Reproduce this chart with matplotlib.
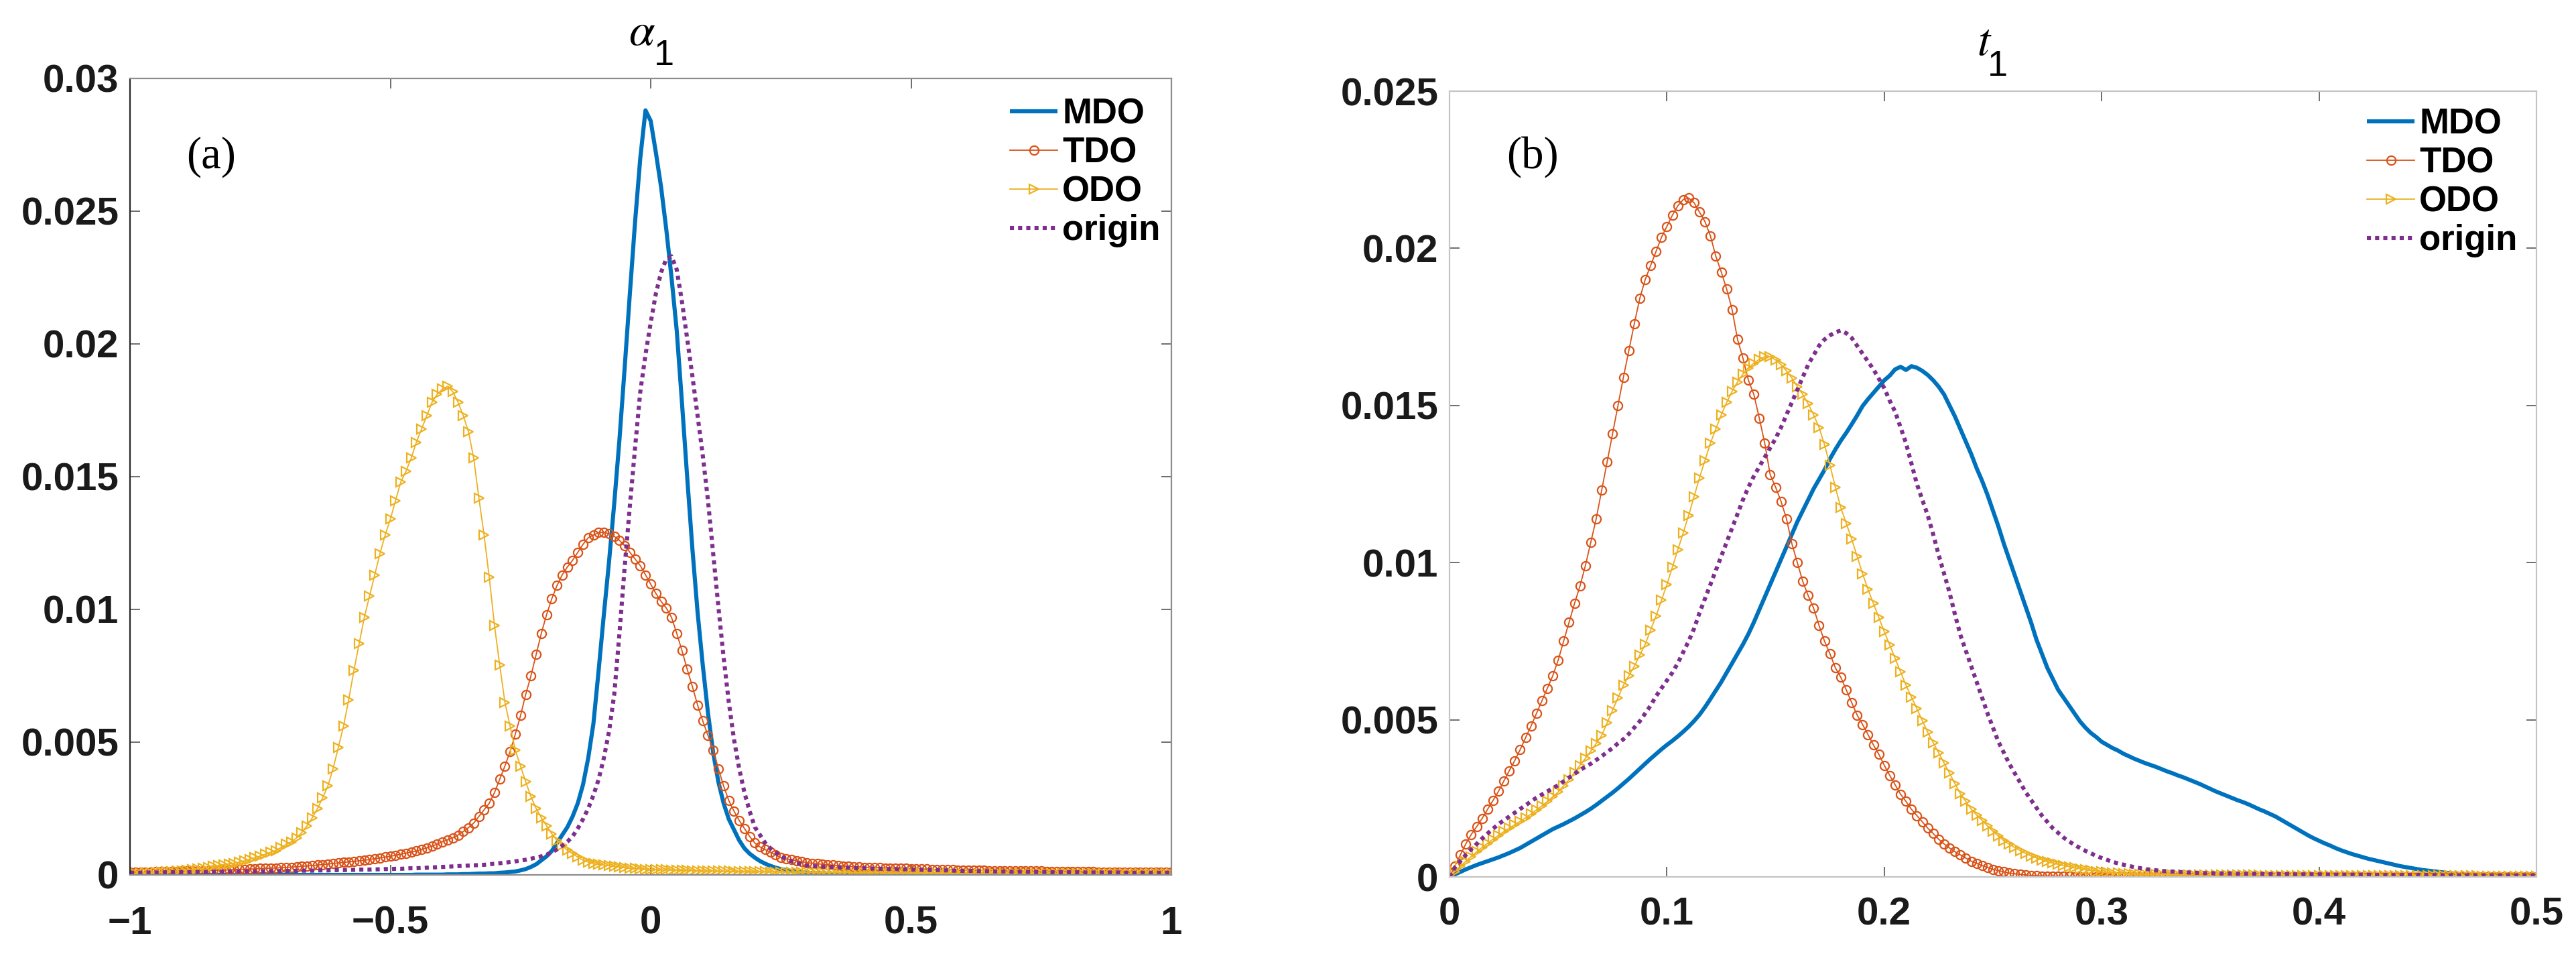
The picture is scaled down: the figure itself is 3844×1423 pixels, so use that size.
import numpy as np
import matplotlib
matplotlib.use("Agg")
import matplotlib.pyplot as plt

plt.rcParams["font.family"] = ["Liberation Sans", "DejaVu Sans"]
plt.rcParams["mathtext.fontset"] = "stix"

# -----------------------------
# DATA (y in units of 1e-4)
# -----------------------------
UNIT = 1e-4

# panel (a): alpha_1, x from -1 to 1 in steps of 0.01
x_a = np.linspace(-1.0, 1.0, 201)

mdo_a = [
    0, 0, 0, 0, 0, 0, 0, 0, 0, 0, 0, 0, 0, 0, 0, 0, 0, 0, 0, 0,
    0, 0, 0, 0, 0, 0, 0, 0, 0, 0, 0, 0, 0, 0, 0, 0, 0, 0, 0, 0,
    0, 0, 0, 0, 0, 0, 0, 0, 0, 0, 0, 0, 0, 0, 0, 0.1, 0.1, 0.1, 0.1, 0.1,
    0.1, 0.2, 0.2, 0.2, 0.3, 0.3, 0.4, 0.5, 0.5, 0.6, 0.6, 0.8, 0.9, 1.1, 1.3, 1.7, 2.2, 3, 4, 5.5,
    7, 9, 12, 15, 18, 22, 27, 34, 44, 57, 77, 98, 118, 140, 164, 191, 219, 246, 270, 288,
    284, 272, 259, 243, 225, 205, 178, 150, 123, 99, 79, 61, 46, 35, 27, 21, 17, 13, 10, 8,
    6.5, 5.2, 4.2, 3.4, 2.7, 2.2, 1.8, 1.5, 1.2, 1.0, 0.8, 0.7, 0.6, 0.5, 0.4, 0.3, 0.3, 0.2, 0.2, 0.2,
    0.1, 0.1, 0.1, 0.1, 0.1, 0, 0, 0, 0, 0, 0, 0, 0, 0, 0, 0, 0, 0, 0, 0,
    0, 0, 0, 0, 0, 0, 0, 0, 0, 0, 0, 0, 0, 0, 0, 0, 0, 0, 0, 0,
    0, 0, 0, 0, 0, 0, 0, 0, 0, 0, 0, 0, 0, 0, 0, 0, 0, 0, 0, 0,
    0,
]

tdo_a = [
    1.0, 1.0, 1.1, 1.1, 1.1, 1.2, 1.2, 1.2, 1.3, 1.3, 1.4, 1.4, 1.5, 1.5, 1.6, 1.6, 1.7, 1.8, 1.8, 1.9,
    2.0, 2.1, 2.1, 2.2, 2.3, 2.4, 2.5, 2.5, 2.6, 2.7, 2.8, 2.9, 3.1, 3.2, 3.4, 3.5, 3.7, 3.9, 4.1, 4.3,
    4.5, 4.7, 4.9, 5.1, 5.3, 5.5, 5.8, 6.1, 6.4, 6.7, 7.0, 7.4, 7.8, 8.2, 8.6, 9.0, 9.6, 10.2, 10.8, 11.6,
    12.5, 13.2, 14, 15, 16.3, 17.8, 19.5, 22, 24.5, 27, 31, 36, 41, 46.5, 53, 60, 68, 75, 83, 91,
    98, 104, 109, 113, 116, 118.5, 121.5, 124.5, 127, 128, 129, 129, 128.5, 127.5, 126, 124, 121.5, 119, 116.5, 113,
    109.5, 106, 103, 100.5, 97, 91, 84.5, 77.5, 71, 64, 58, 52.5, 47, 40, 33.5, 28, 24, 20.5, 17.5, 14.5,
    12, 10.5, 9.5, 8.5, 7.5, 6.5, 6, 5.7, 5.4, 5, 4.6, 4.4, 4.2, 4, 3.8, 3.7, 3.5, 3.4, 3.2, 3.1,
    3.0, 2.9, 2.8, 2.8, 2.7, 2.6, 2.6, 2.5, 2.4, 2.4, 2.3, 2.3, 2.2, 2.2, 2.1, 2.0, 2.0, 1.9, 1.9, 1.8,
    1.8, 1.8, 1.7, 1.7, 1.7, 1.6, 1.6, 1.6, 1.5, 1.5, 1.5, 1.5, 1.4, 1.4, 1.4, 1.4, 1.3, 1.3, 1.3, 1.3,
    1.3, 1.2, 1.2, 1.2, 1.2, 1.2, 1.1, 1.1, 1.1, 1.1, 1.1, 1.1, 1.0, 1.0, 1.0, 1.0, 1.0, 1.0, 1.0, 1.0,
    1.0,
]

odo_a = [
    0.5, 0.55, 0.6, 0.7, 0.8, 0.9, 1.0, 1.15, 1.3, 1.45, 1.6, 1.8, 2.0, 2.3, 2.6, 2.9, 3.2, 3.5, 3.8, 4.1,
    4.4, 4.8, 5.3, 5.9, 6.5, 7.1, 7.8, 8.5, 9.2, 10.3, 11.5, 12.5, 14, 16, 18.5, 21.5, 25, 29, 33.5, 40,
    48, 56, 66, 77, 87, 97, 105, 113, 121, 128, 134, 141, 148, 152, 157, 163, 168, 173, 178, 181,
    183, 184, 182, 178, 173, 167, 157, 142, 128, 112, 94, 79, 65, 56, 47, 41, 35, 29.5, 25, 21.5,
    18.5, 15.5, 13, 11, 9.3, 8, 6.7, 5.5, 4.8, 4.3, 4, 3.7, 3.5, 3.2, 3, 2.8, 2.5, 2.4, 2.3, 2.1,
    2.0, 2.0, 1.9, 1.9, 1.8, 1.8, 1.7, 1.7, 1.6, 1.6, 1.5, 1.5, 1.5, 1.4, 1.4, 1.4, 1.3, 1.3, 1.3, 1.2,
    1.2, 1.2, 1.2, 1.1, 1.1, 1.1, 1.1, 1.0, 1.0, 1.0, 1.0, 1.0, 0.9, 0.9, 0.9, 0.9, 0.9, 0.9, 0.8, 0.8,
    0.8, 0.8, 0.8, 0.8, 0.8, 0.7, 0.7, 0.7, 0.7, 0.7, 0.7, 0.7, 0.7, 0.6, 0.6, 0.6, 0.6, 0.6, 0.6, 0.6,
    0.6, 0.6, 0.6, 0.6, 0.5, 0.5, 0.5, 0.5, 0.5, 0.5, 0.5, 0.5, 0.5, 0.5, 0.5, 0.5, 0.5, 0.5, 0.5, 0.5,
    0.5, 0.5, 0.5, 0.5, 0.5, 0.5, 0.5, 0.5, 0.5, 0.5, 0.5, 0.5, 0.5, 0.5, 0.5, 0.5, 0.5, 0.5, 0.5, 0.5,
    0.5,
]

origin_a = [
    0.8, 0.8, 0.8, 0.9, 0.9, 0.9, 0.9, 1.0, 1.0, 1.0, 1.0, 1.0, 1.1, 1.1, 1.1, 1.1, 1.2, 1.2, 1.2, 1.2,
    1.2, 1.3, 1.3, 1.3, 1.3, 1.4, 1.4, 1.4, 1.4, 1.5, 1.5, 1.5, 1.5, 1.6, 1.6, 1.6, 1.7, 1.7, 1.7, 1.8,
    1.8, 1.8, 1.9, 1.9, 2.0, 2.0, 2.0, 2.1, 2.1, 2.2, 2.2, 2.3, 2.3, 2.4, 2.5, 2.5, 2.6, 2.7, 2.8, 2.9,
    3.0, 3.1, 3.2, 3.3, 3.4, 3.5, 3.6, 3.7, 3.8, 4.0, 4.2, 4.4, 4.6, 4.8, 5.1, 5.4, 5.7, 6.1, 6.5, 7.0,
    7.6, 8.5, 9.6, 11, 12.5, 14.5, 17.5, 21, 25, 30, 36, 44, 54, 68, 91, 116, 139, 161, 182, 196,
    208, 219, 227, 232, 233, 228, 216, 202, 188, 173, 158, 141, 121, 101, 82, 65, 51, 40, 31, 24,
    18, 15, 12, 10, 8.5, 7, 6, 5.2, 4.5, 4, 3.5, 3.3, 3.2, 3.1, 3.0, 2.9, 2.8, 2.7, 2.7, 2.6,
    2.5, 2.5, 2.4, 2.4, 2.3, 2.3, 2.2, 2.2, 2.1, 2.1, 2.0, 2.0, 1.9, 1.9, 1.8, 1.8, 1.7, 1.7, 1.6, 1.6,
    1.5, 1.5, 1.5, 1.4, 1.4, 1.4, 1.3, 1.3, 1.3, 1.2, 1.2, 1.2, 1.2, 1.1, 1.1, 1.1, 1.1, 1.0, 1.0, 1.0,
    1.0, 1.0, 1.0, 0.9, 0.9, 0.9, 0.9, 0.9, 0.9, 0.9, 0.9, 0.8, 0.8, 0.8, 0.8, 0.8, 0.8, 0.8, 0.8, 0.8,
    0.8,
]

# panel (b): t_1, x from 0 to 0.5 in steps of 0.0025
x_b = np.linspace(0.0, 0.5, 201)

mdo_b = [
    0, 0.8, 1.6, 2.4, 3.1, 3.8, 4.4, 5.0, 5.6, 6.2, 6.9, 7.6, 8.4, 9.2, 10.2, 11.2, 12.2, 13.2, 14.2, 15.2,
    16, 16.8, 17.7, 18.6, 19.6, 20.6, 21.7, 22.9, 24.2, 25.5, 26.8, 28.2, 29.7, 31.2, 32.8, 34.4, 36, 37.6, 39.1, 40.6,
    42, 43.3, 44.7, 46.2, 47.8, 49.6, 51.6, 54, 56.6, 59.3, 62, 65, 68, 71, 74, 77.3, 81, 85, 89, 93,
    97, 101, 105, 109, 113, 116.5, 120, 123.5, 126.5, 129.5, 133, 136, 138.8, 141.3, 144, 146.8, 149.8, 152, 154, 156,
    158, 159.5, 161.5, 162.3, 161.3, 162.5, 162, 161, 159.7, 158, 156, 153.5, 150, 146.5, 142.5, 138.5, 134.5, 130, 126, 121.5,
    116.5, 111.5, 106, 101, 96, 91, 86, 81, 75.5, 71, 66.5, 63, 59.5, 57, 54.5, 52, 49.5, 47.5, 45.8, 44.5,
    43, 42, 41, 40.2, 39.2, 38.4, 37.6, 36.9, 36.2, 35.6, 35, 34.3, 33.6, 33, 32.3, 31.7, 31, 30.3, 29.6, 28.8,
    28, 27.2, 26.5, 25.8, 25.1, 24.4, 23.8, 23.1, 22.3, 21.5, 20.8, 20, 19.2, 18.2, 17.2, 16.2, 15.2, 14.2, 13.2, 12.3,
    11.5, 10.7, 10, 9.2, 8.5, 7.9, 7.3, 6.8, 6.3, 5.8, 5.4, 5, 4.6, 4.2, 3.8, 3.4, 3.1, 2.8, 2.5, 2.2,
    2, 1.8, 1.6, 1.4, 1.2, 1.0, 0.9, 0.8, 0.7, 0.6, 0.5, 0.4, 0.35, 0.3, 0.25, 0.2, 0.15, 0.1, 0.1, 0.05,
    0,
]

tdo_b = [
    0, 3.5, 7, 10.5, 13.5, 16, 18.6, 21.5, 24.3, 27.2, 30.5, 33.8, 37, 40.5, 44.3, 48, 52, 56, 60, 64,
    69, 75, 81, 87, 92.5, 99, 106.5, 114, 123, 132, 141, 150, 159, 167.5, 176, 184, 190, 194.5, 199, 203.5,
    207, 210.5, 213.5, 215.5, 216, 214.5, 211.5, 208.5, 204, 197.5, 192.5, 187, 180.5, 171, 165, 158, 153.5, 146, 138, 128,
    124, 119.5, 114, 106, 100, 94, 89.5, 85.5, 80, 75, 71, 66.5, 63.5, 59.5, 55.5, 51.5, 48.5, 45.3, 42, 39,
    35.5, 32.3, 29.3, 26.3, 24, 21.5, 19.5, 17.5, 15.5, 13.8, 12, 10.5, 9.2, 8, 7, 6, 5, 4.3, 3.6, 3,
    2.4, 2.0, 1.6, 1.2, 1.0, 0.8, 0.6, 0.5, 0.4, 0.3, 0.3, 0.2, 0.2, 0.2, 0.2, 0.1, 0.1, 0.1, 0.1, 0.1,
    0.1, 0.1, 0.1, 0.1, 0.1, 0.1, 0.1, 0.1, 0.1, 0.1, 0.1, 0.1, 0.1, 0.1, 0.1, 0.1, 0.1, 0.1, 0.1, 0.1,
    0.1, 0.1, 0.1, 0.1, 0.1, 0.1, 0.1, 0.1, 0.1, 0.1, 0, 0, 0, 0, 0, 0, 0, 0, 0, 0,
    0, 0, 0, 0, 0, 0, 0, 0, 0, 0, 0, 0, 0, 0, 0, 0, 0, 0, 0, 0,
    0, 0, 0, 0, 0, 0, 0, 0, 0, 0, 0, 0, 0, 0, 0, 0, 0, 0, 0, 0,
    0,
]

odo_b = [
    0, 1.8, 3.4, 5, 6.5, 8, 9.4, 10.7, 12, 13.2, 14.4, 15.5, 16.6, 17.7, 18.8, 20, 21.3, 22.6, 24, 25.5,
    27, 29, 31, 33.2, 35.5, 37.7, 40, 42.5, 45, 49, 53, 57, 61, 64, 67, 70.5, 74, 78.5, 83, 88,
    93, 98.5, 104, 109.5, 115, 121, 127, 132.5, 138, 142.5, 147, 151, 154.5, 157.5, 160, 162, 163.5, 164.7, 165.5, 165.5,
    164.5, 163, 161, 158.7, 156, 153.5, 150.5, 147, 143, 137.5, 131, 124, 117.5, 112.5, 107.5, 102, 96.5, 91.5, 87, 82.5,
    78, 73.8, 69.5, 65.2, 61, 57.2, 53.5, 49.7, 46, 42.7, 39.5, 36.2, 33, 29.7, 26.5, 24, 21.5, 19.7, 18, 16.2,
    14.5, 13, 11.5, 10.4, 9.3, 8.4, 7.5, 6.7, 6, 5.4, 4.8, 4.4, 4, 3.6, 3.3, 2.9, 2.6, 2.3, 2.1, 1.8,
    1.6, 1.4, 1.3, 1.2, 1.1, 1.0, 0.9, 0.9, 0.8, 0.8, 0.8, 0.8, 0.7, 0.7, 0.7, 0.7, 0.7, 0.7, 0.6, 0.6,
    0.6, 0.6, 0.6, 0.6, 0.6, 0.6, 0.6, 0.6, 0.6, 0.6, 0.5, 0.5, 0.5, 0.5, 0.5, 0.5, 0.5, 0.5, 0.5, 0.5,
    0.5, 0.5, 0.5, 0.5, 0.5, 0.5, 0.5, 0.5, 0.5, 0.5, 0.4, 0.4, 0.4, 0.4, 0.4, 0.4, 0.4, 0.4, 0.4, 0.4,
    0.4, 0.4, 0.4, 0.4, 0.4, 0.4, 0.4, 0.4, 0.4, 0.4, 0.3, 0.3, 0.3, 0.3, 0.3, 0.3, 0.3, 0.3, 0.3, 0.3,
    0.3,
]

origin_b = [
    0, 3, 5, 7, 8.8, 10.5, 12.2, 13.8, 15.3, 16.8, 18, 19.2, 20.4, 21.6, 22.8, 24, 25.2, 26.2, 27.2, 28.2,
    29.2, 30.4, 31.6, 32.8, 34, 35, 36, 37.2, 38.4, 39.7, 41, 42.5, 43.8, 45.5, 47.5, 49.5, 52, 54.5, 57.5, 60,
    62.5, 65, 68, 71.5, 75, 79, 84, 88.5, 93, 97.5, 102, 106.5, 111, 115.5, 120, 124, 127.5, 130.5, 133.5, 136.5,
    139.5, 143, 147, 151, 155, 159, 163, 166, 169, 171, 172.3, 173.3, 173.8, 173, 171.5, 169, 166.5, 164, 161.5, 158.5,
    155.5, 151.5, 148, 143, 138, 131.5, 125, 120, 115, 109, 102.5, 96.5, 90.5, 83.5, 77, 72, 67, 62, 57, 52,
    47.5, 43, 39.5, 36, 33, 30, 27, 24.5, 22, 19.5, 17.5, 15.5, 14, 12.5, 11.3, 10.2, 9.2, 8.3, 7.5, 6.7,
    6, 5.4, 4.8, 4.3, 3.9, 3.5, 3.1, 2.8, 2.5, 2.3, 2.1, 1.9, 1.8, 1.7, 1.6, 1.5, 1.4, 1.3, 1.3, 1.2,
    1.2, 1.1, 1.1, 1.1, 1.1, 1.0, 1.0, 1.0, 1.0, 1.0, 0.9, 0.9, 0.9, 0.9, 0.9, 0.8, 0.8, 0.8, 0.8, 0.8,
    0.8, 0.8, 0.7, 0.7, 0.7, 0.7, 0.7, 0.7, 0.7, 0.7, 0.6, 0.6, 0.6, 0.6, 0.6, 0.6, 0.6, 0.6, 0.6, 0.6,
    0.6, 0.6, 0.5, 0.5, 0.5, 0.5, 0.5, 0.5, 0.5, 0.5, 0.5, 0.5, 0.5, 0.5, 0.5, 0.5, 0.5, 0.5, 0.5, 0.5,
    0.5,
]

labels = ["MDO", "TDO", "ODO", "origin"]

xticks_a = [-1, -0.5, 0, 0.5, 1]
xticklabels_a = ["\u22121", "\u22120.5", "0", "0.5", "1"]
yticks_a = [0, 0.005, 0.01, 0.015, 0.02, 0.025, 0.03]
yticklabels_a = ["0", "0.005", "0.01", "0.015", "0.02", "0.025", "0.03"]

xticks_b = [0, 0.1, 0.2, 0.3, 0.4, 0.5]
xticklabels_b = ["0", "0.1", "0.2", "0.3", "0.4", "0.5"]
yticks_b = [0, 0.005, 0.01, 0.015, 0.02, 0.025]
yticklabels_b = ["0", "0.005", "0.01", "0.015", "0.02", "0.025"]

for arr in (mdo_a, tdo_a, odo_a, origin_a, mdo_b, tdo_b, odo_b, origin_b):
    assert len(arr) == 201, len(arr)

# -----------------------------
# STYLES (MATLAB default colours)
# -----------------------------
BLUE, ORANGE, YELLOW, PURPLE = "#0072BD", "#D95319", "#EDB120", "#7E2F8E"

styles = [
    dict(color=BLUE, lw=4.4, solid_capstyle="butt"),
    dict(color=ORANGE, lw=1.3, marker="o", ms=9.5, mfc="none", mew=1.6),
    dict(color=YELLOW, lw=1.3, marker=">", ms=9.5, mfc="none", mew=1.6),
    dict(color=PURPLE, lw=4.4, linestyle=(0, (1.0, 1.0)), dash_capstyle="butt"),
]

W, H = 3844, 1423
fig = plt.figure(figsize=(W / 100, H / 100), dpi=100)


def frac_box(left, top, right, bottom):
    return [left / W, 1 - bottom / H, (right - left) / W, (bottom - top) / H]


def draw_panel(ax, x, series, xlim, ylim, xt, xtl, yt, ytl,
               left_col, other_col, xpad, leg_anchor):
    lines = []
    for y, st, lab in zip(series, styles, labels):
        (ln,) = ax.plot(x, np.array(y) * UNIT, label=lab, **st)
        lines.append(ln)
    ax.set_xlim(*xlim)
    ax.set_ylim(*ylim)
    ax.set_xticks(xt)
    ax.set_xticklabels(xtl)
    ax.set_yticks(yt)
    ax.set_yticklabels(ytl)
    for side in ("top", "right", "bottom"):
        ax.spines[side].set_color(other_col)
        ax.spines[side].set_linewidth(1.6)
    ax.spines["left"].set_color(left_col)
    ax.spines["left"].set_linewidth(1.6)
    ax.tick_params(direction="in", length=10.5, width=1.2, color="#555555",
                   top=True, right=True, labelsize=42, labelcolor="#1a1a1a")
    ax.tick_params(axis="x", pad=xpad)
    ax.tick_params(axis="y", pad=12)
    for t in ax.get_xticklabels() + ax.get_yticklabels():
        t.set_fontweight("bold")
    ax.legend(lines, labels, loc="upper left", bbox_to_anchor=leg_anchor,
              frameon=False, borderpad=0, borderaxespad=0,
              handlelength=1.35, handletextpad=0.13, labelspacing=0.15,
              prop=dict(family="Liberation Sans", weight="bold", size=38))


# panel (a)
ax1 = fig.add_axes(frac_box(194, 117, 1748, 1305))
draw_panel(ax1, x_a, [mdo_a, tdo_a, odo_a, origin_a], (-1, 1), (0, 0.03),
           xticks_a, xticklabels_a, yticks_a, yticklabels_a,
           "#262626", "#8c8c8c", 33, (0.845, 0.976))

# panel (b)
ax2 = fig.add_axes(frac_box(2163, 136, 3785, 1308))
draw_panel(ax2, x_b, [mdo_b, tdo_b, odo_b, origin_b], (0, 0.5), (0, 0.025),
           xticks_b, xticklabels_b, yticks_b, yticklabels_b,
           "#c4c4c4", "#c4c4c4", 21, (0.844, 0.979))

# panel tags
fig.text(315 / W, 1 - 234 / H, "(a)", family="Liberation Serif", fontsize=48,
         ha="center", va="center")
fig.text(2287 / W, 1 - 234 / H, "(b)", family="Liberation Serif", fontsize=48,
         ha="center", va="center")

# titles: greek/italic symbol with a sans-serif subscript
fig.text(958 / W, 1 - 67 / H, r"$\alpha$", fontsize=50, ha="center", va="baseline")
fig.text(991 / W, 1 - 97 / H, "1", fontsize=39, ha="center", va="baseline")
fig.text(2961 / W, 1 - 82 / H, r"$t$", fontsize=50, ha="center", va="baseline")
fig.text(2981 / W, 1 - 113 / H, "1", fontsize=39, ha="center", va="baseline")

fig.savefig("out.png", dpi=100, facecolor="white")
